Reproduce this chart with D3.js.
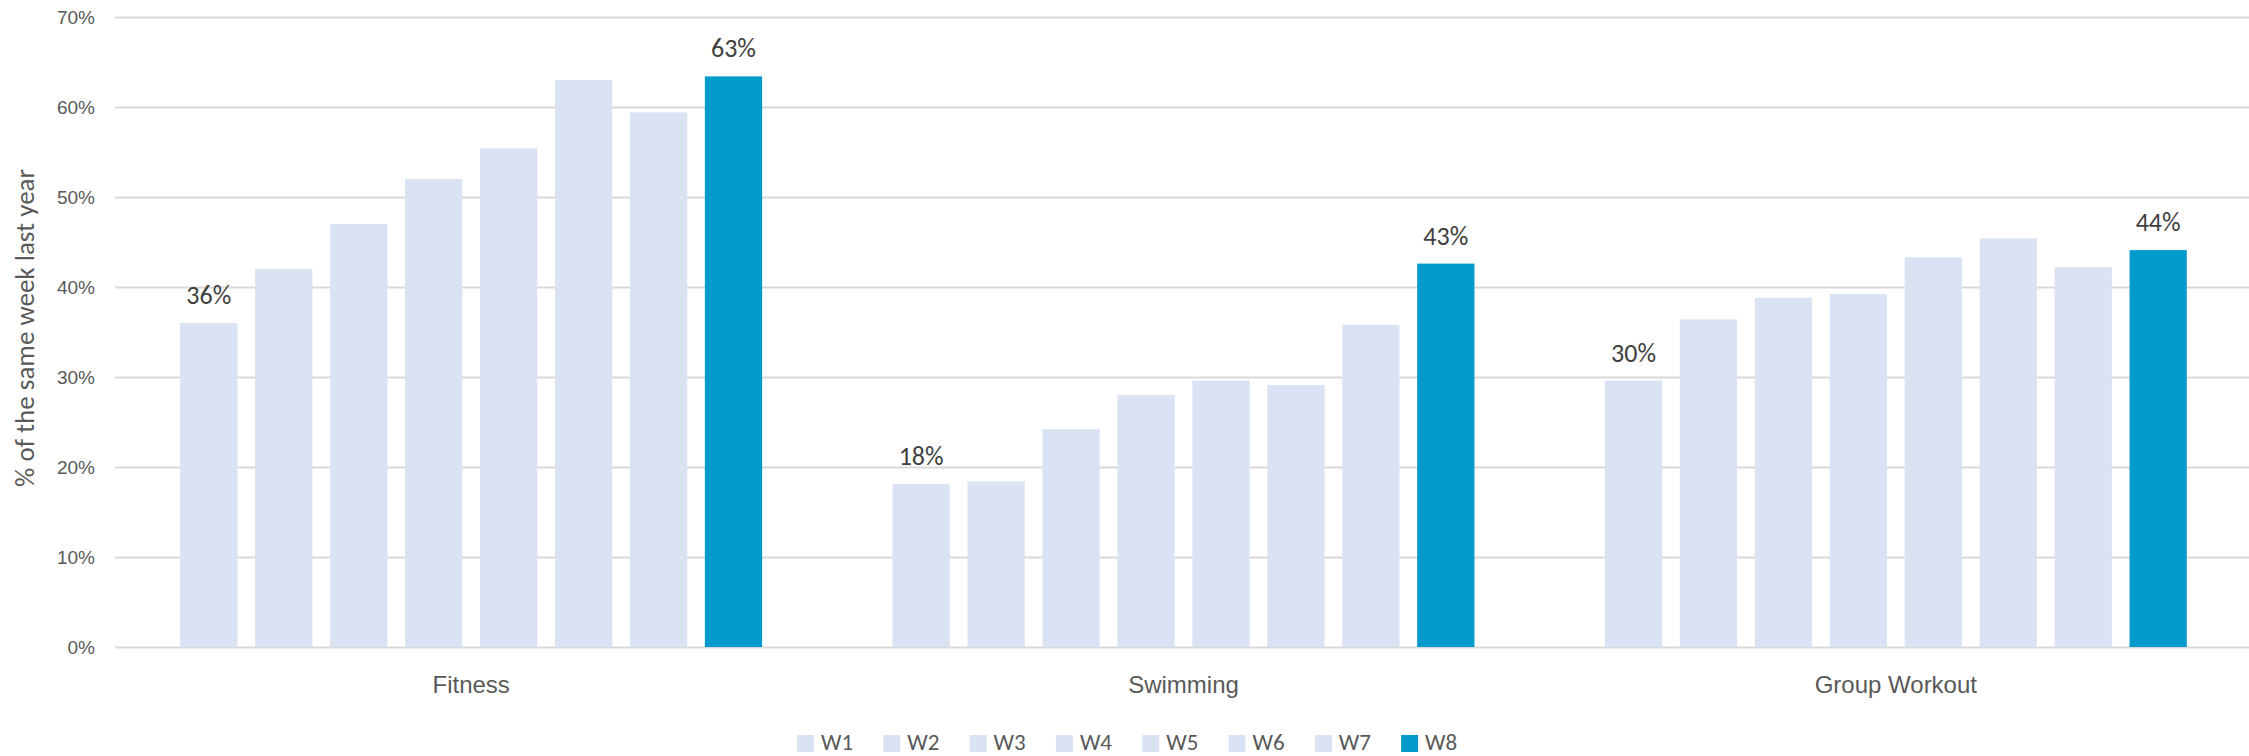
<!DOCTYPE html>
<html>
<head>
<meta charset="utf-8">
<script src="https://cdn.jsdelivr.net/npm/d3@7"></script>
<style>
  html, body { margin: 0; padding: 0; background: #fff; }
  svg { display: block; font-family: Carlito, Calibri, Lato, "Open Sans", sans-serif; }
</style>
</head>
<body>
<div id="chart"></div>
<script>
// values, % of the same week last year
const categories = ["Fitness", "Swimming", "Group Workout"];
const weeks = ["W1", "W2", "W3", "W4", "W5", "W6", "W7", "W8"];
const fitness = [36.0, 42.0, 47.0, 52.0, 55.4, 63.0, 59.4, 63.4];
const swimming = [18.1, 18.4, 24.2, 28.0, 29.6, 29.1, 35.8, 42.6];
const groupWorkout = [29.6, 36.4, 38.8, 39.2, 43.3, 45.4, 42.2, 44.1];
const yTicks = [0, 10, 20, 30, 40, 50, 60, 70];
const labelledWeeks = ["W1", "W8"];
const yTitle = "% of the same week last year";

const width = 2249, height = 756;
const margin = { top: 17, right: -3, bottom: 109, left: 115 };

const series = [fitness, swimming, groupWorkout];
const rows = [];
categories.forEach((c, ci) => {
  weeks.forEach((w, wi) => rows.push({ cat: c, week: w, value: series[ci][wi] }));
});

const svg = d3.select("#chart").append("svg")
  .attr("width", width)
  .attr("height", height);

const x0 = d3.scaleBand()
  .domain(categories)
  .range([margin.left, width - margin.right]);

const x1 = d3.scaleBand()
  .domain(weeks)
  .range([0, x0.bandwidth()])
  .paddingInner(0.236)
  .paddingOuter(0.87);

const y = d3.scaleLinear()
  .domain([0, 70])
  .range([height - margin.bottom, margin.top]);

const color = w => w === "W8" ? "#009acd" : "#dae3f3";

// gridlines + tick labels
const yAxis = svg.append("g")
  .attr("transform", `translate(${margin.left},0)`)
  .call(d3.axisLeft(y)
    .tickValues(yTicks)
    .tickFormat(d => d + "%")
    .tickSize(-(width - margin.left))
    .tickPadding(20));
yAxis.select(".domain").remove();
yAxis.selectAll(".tick line").attr("stroke", "#d9d9d9").attr("stroke-width", 2);
yAxis.selectAll(".tick text")
  .attr("fill", "#595959")
  .style("font-size", "19px");

// y title
svg.append("text")
  .attr("transform", `translate(34,${(y(0) + y(70)) / 2 - 4}) rotate(-90)`)
  .attr("text-anchor", "middle")
  .attr("fill", "#595959")
  .style("font-size", "27px")
  .text(yTitle);

// bars
const groups = svg.append("g").selectAll("g")
  .data(categories)
  .join("g")
  .attr("transform", d => `translate(${x0(d)},0)`);

groups.selectAll("rect")
  .data(c => rows.filter(r => r.cat === c))
  .join("rect")
  .attr("x", d => x1(d.week))
  .attr("y", d => y(d.value))
  .attr("width", x1.bandwidth())
  .attr("height", d => y(0) - y(d.value))
  .attr("fill", d => color(d.week));

// data labels on first and last week
groups.selectAll("text.lbl")
  .data(c => rows.filter(r => r.cat === c && labelledWeeks.includes(r.week)))
  .join("text")
  .attr("class", "lbl")
  .attr("x", d => x1(d.week) + x1.bandwidth() / 2)
  .attr("y", d => y(d.value) - 19)
  .attr("text-anchor", "middle")
  .attr("fill", "#404040")
  .style("font-size", "26px")
  .text(d => Math.round(d.value) + "%");

// category axis
const xAxis = svg.append("g")
  .attr("transform", `translate(0,${y(0)})`)
  .call(d3.axisBottom(x0).tickSize(0));
xAxis.select(".domain").remove();
xAxis.selectAll(".tick text")
  .attr("y", 46)
  .attr("dy", 0)
  .attr("fill", "#595959")
  .style("font-size", "24px");

// legend
const legendX = d3.scaleBand()
  .domain(weeks)
  .range([797, 797 + 8 * 86.3]);

const legend = svg.append("g").selectAll("g")
  .data(weeks)
  .join("g")
  .attr("transform", d => `translate(${legendX(d)},735)`);

legend.append("rect")
  .attr("width", 17)
  .attr("height", 17)
  .attr("fill", d => color(d));

legend.append("text")
  .attr("x", 24)
  .attr("y", 15)
  .attr("fill", "#595959")
  .style("font-size", "23px")
  .text(d => d);
</script>
</body>
</html>
